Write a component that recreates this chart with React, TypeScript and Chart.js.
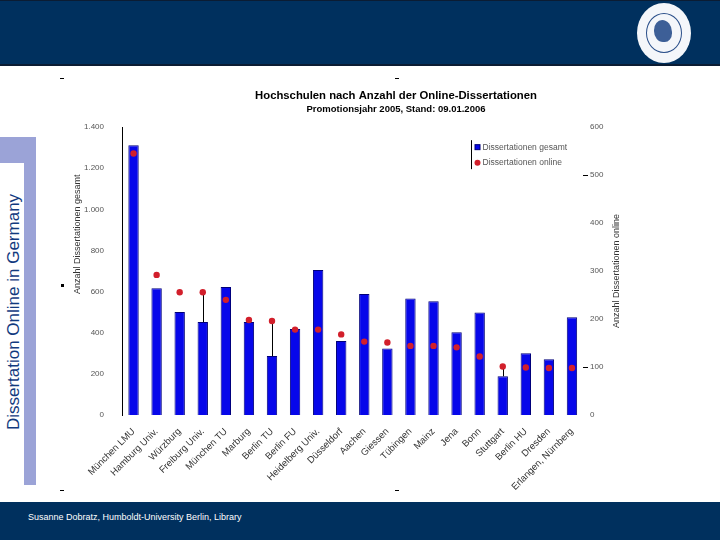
import React, { useEffect, useRef } from "react";
import { Chart, registerables } from "chart.js";

Chart.register(...registerables);

const categories = [
  "München LMU",
  "Hamburg Univ.",
  "Würzburg",
  "Freiburg Univ.",
  "München TU",
  "Marburg",
  "Berlin TU",
  "Berlin FU",
  "Heidelberg Univ.",
  "Düsseldorf",
  "Aachen",
  "Giessen",
  "Tübingen",
  "Mainz",
  "Jena",
  "Bonn",
  "Stuttgart",
  "Berlin HU",
  "Dresden",
  "Erlangen, Nürnberg",
];

const totalValues = [1312, 616, 501, 452, 622, 452, 287, 418, 705, 360, 588, 324, 567, 553, 403, 499, 188, 300, 271, 475];
const onlineValues = [545, 292, 256, 256, 240, 198, 196, 178, 178, 168, 153, 151, 144, 144, 141, 122, 101, 99, 98, 98];

const connectorIndices = [3, 6, 16];

const seriesLabels = ["Dissertationen gesamt", "Dissertationen online"];
const titleText = "Hochschulen nach Anzahl der Online-Dissertationen";
const subtitleText = "Promotionsjahr 2005, Stand: 09.01.2006";
const leftAxisTitle = "Anzahl Dissertationen gesamt";
const rightAxisTitle = "Anzahl Dissertationen online";
const sideTitle = "Dissertation Online in Germany";
const footerText = "Susanne Dobratz, Humboldt-University Berlin, Library";

const FONT = "'Liberation Sans', Arial, Helvetica, sans-serif";
const NAVY = "#00305e";
const BAR_FILL = "#0707ea";
const BAR_EDGE = "#00007a";
const DOT = "#d21f2b";

function fmtThousands(v: number): string {
  if (v >= 1000) {
    const th = Math.floor(v / 1000);
    const rest = String(v % 1000).padStart(3, "0");
    return th + "." + rest;
  }
  return String(v);
}

const connectorPlugin = {
  id: "connectors",
  beforeDatasetsDraw(chart: any) {
    const { ctx } = chart;
    const xs = chart.scales.x;
    const ys = chart.scales.y;
    const y1 = chart.scales.y1;
    ctx.save();
    ctx.strokeStyle = "#000";
    ctx.lineWidth = 1;
    connectorIndices.forEach((i) => {
      const px = Math.round(xs.getPixelForValue(i)) + 0.5;
      const top = y1.getPixelForValue(onlineValues[i]);
      const bottom = ys.getPixelForValue(totalValues[i]);
      ctx.beginPath();
      ctx.moveTo(px, top);
      ctx.lineTo(px, bottom);
      ctx.stroke();
    });
    ctx.restore();
  },
};

const axisTitlePlugin = {
  id: "axisTitles",
  afterDraw(chart: any) {
    const { ctx, chartArea } = chart;
    ctx.save();
    ctx.font = `9px ${FONT}`;
    ctx.fillStyle = "#333";
    ctx.textAlign = "center";
    ctx.textBaseline = "middle";
    ctx.save();
    ctx.translate(chart.scales.y.left + 22, chartArea.top + chartArea.height * 0.372);
    ctx.rotate(-Math.PI / 2);
    ctx.fillText(leftAxisTitle, 0, 0);
    ctx.restore();
    ctx.save();
    ctx.translate(chartArea.right + 33.5, (chartArea.top + chartArea.bottom) / 2);
    ctx.rotate(-Math.PI / 2);
    ctx.fillText(rightAxisTitle, 0, 0);
    ctx.restore();
    // small dashes beside right-axis labels 500 and 100
    const y1 = chart.scales.y1;
    ctx.strokeStyle = "#000";
    ctx.lineWidth = 1;
    [500, 100].forEach((v) => {
      const py = Math.round(y1.getPixelForValue(v)) + 0.5;
      ctx.beginPath();
      ctx.moveTo(chartArea.right - 0.5, py);
      ctx.lineTo(chartArea.right + 4.5, py);
      ctx.stroke();
    });
    ctx.restore();
  },
};

const legendPlugin = {
  id: "insideLegend",
  afterDatasetsDraw(chart: any) {
    const { ctx, chartArea } = chart;
    const lx = Math.round(chartArea.right - 113) + 0.5;
    const ty = chartArea.top;
    ctx.save();
    ctx.strokeStyle = "#000";
    ctx.lineWidth = 1;
    ctx.beginPath();
    ctx.moveTo(lx, ty + 13);
    ctx.lineTo(lx, ty + 42);
    ctx.stroke();
    ctx.font = `8.5px ${FONT}`;
    ctx.textBaseline = "middle";
    ctx.textAlign = "left";
    const ds = chart.data.datasets;
    ctx.fillStyle = ds[0].backgroundColor;
    ctx.fillRect(lx + 3.5, ty + 17.5, 5, 5);
    ctx.strokeStyle = ds[0].borderColor;
    ctx.strokeRect(lx + 3.5, ty + 17.5, 5, 5);
    ctx.fillStyle = "#555";
    ctx.fillText(ds[0].label, lx + 11, ty + 20.5);
    ctx.fillStyle = ds[1].pointBackgroundColor;
    ctx.beginPath();
    ctx.arc(lx + 6, ty + 35.5, 3, 0, Math.PI * 2);
    ctx.fill();
    ctx.fillStyle = "#555";
    ctx.fillText(ds[1].label, lx + 11, ty + 35.5);
    ctx.restore();
  },
};

function ChartBox() {
  const ref = useRef<HTMLCanvasElement | null>(null);
  useEffect(() => {
    if (!ref.current) return;
    Chart.defaults.font.family = FONT;
    const chart = new Chart(ref.current, {
      type: "bar",
      data: {
        labels: categories,
        datasets: [
          {
            type: "bar",
            label: seriesLabels[0],
            data: totalValues,
            backgroundColor: BAR_FILL,
            borderColor: BAR_EDGE,
            borderWidth: 1,
            barPercentage: 0.45,
            categoryPercentage: 1,
            yAxisID: "y",
            order: 2,
          } as any,
          {
            type: "line",
            label: seriesLabels[1],
            data: onlineValues,
            showLine: false,
            pointRadius: 3.2,
            pointBackgroundColor: DOT,
            pointBorderColor: DOT,
            borderColor: DOT,
            backgroundColor: DOT,
            pointBorderWidth: 0,
            yAxisID: "y1",
            order: 1,
          } as any,
        ],
      },
      options: {
        animation: false,
        responsive: true,
        maintainAspectRatio: false,
        layout: { padding: 0 },
        plugins: {
          legend: { display: false },
          tooltip: { enabled: false },
          title: {
            display: true,
            text: titleText,
            color: "#000",
            font: { size: 11.3, weight: "bold" },
            padding: { top: 9.2, bottom: 0 },
          },
          subtitle: {
            display: true,
            text: subtitleText,
            color: "#000",
            font: { size: 9.5, weight: "bold" },
            padding: { top: 1, bottom: 12 },
          },
        },
        scales: {
          x: {
            type: "category",
            grid: { display: false, drawTicks: false },
            border: { display: false },
            ticks: {
              autoSkip: false,
              maxRotation: 45,
              minRotation: 45,
              padding: 11,
              color: "#333",
              font: { size: 9.5 },
            },
            afterFit: (s: any) => {
              s.height = 85;
            },
          },
          y: {
            position: "left",
            min: 0,
            max: 1400,
            grid: { display: false, drawTicks: false },
            border: { display: true, color: "#000", width: 1 },
            ticks: {
              stepSize: 200,
              padding: 18,
              color: "#555",
              font: { size: 8 },
              callback: (v: any) => fmtThousands(Number(v)),
            },
            afterFit: (s: any) => {
              s.width = 66;
            },
          },
          y1: {
            position: "right",
            min: 0,
            max: 600,
            grid: { display: false, drawTicks: false },
            border: { display: false },
            ticks: {
              stepSize: 100,
              padding: 6.5,
              color: "#555",
              font: { size: 8 },
            },
            afterFit: (s: any) => {
              s.width = 152.5;
            },
          },
        },
      } as any,
      plugins: [connectorPlugin, axisTitlePlugin, legendPlugin],
    });
    return () => chart.destroy();
  }, []);
  return (
    <div style={{ position: "absolute", left: 56, top: 80, width: 680, height: 420 }}>
      <canvas ref={ref} />
    </div>
  );
}

function Mark({ x, y, w, h }: { x: number; y: number; w: number; h: number }) {
  return <div style={{ position: "absolute", left: x, top: y, width: w, height: h, background: "#000" }} />;
}

export default function App() {
  return (
    <div
      style={{
        position: "fixed",
        left: 0,
        top: 0,
        width: 720,
        height: 540,
        overflow: "hidden",
        background: "#fff",
        fontFamily: FONT,
      }}
    >
      <div
        style={{
          position: "absolute",
          left: 0,
          top: 0,
          width: 720,
          height: 63,
          background: NAVY,
          borderTop: "1px solid #0b1c33",
          borderBottom: "2px solid #0b1c33",
        }}
      />
      <div
        style={{
          position: "absolute",
          left: 637,
          top: 3,
          width: 54,
          height: 60,
          borderRadius: "50%",
          background: "#f4f6fa",
        }}
      >
        <div
          style={{
            position: "absolute",
            left: 9,
            top: 10,
            width: 34,
            height: 38,
            borderRadius: "50%",
            border: "1px solid #2a4f8a",
          }}
        />
        <div
          style={{
            position: "absolute",
            left: 17,
            top: 17,
            width: 18,
            height: 22,
            borderRadius: "45% 55% 40% 50%",
            background: "#3d5f97",
          }}
        />
      </div>

      <div style={{ position: "absolute", left: 0, top: 137, width: 36, height: 26, background: "#9ba3d7" }} />
      <div style={{ position: "absolute", left: 24, top: 163, width: 12, height: 322, background: "#9ba3d7" }} />
      <div
        style={{
          position: "absolute",
          left: 14,
          top: 312,
          transform: "translate(-50%, -50%) rotate(-90deg)",
          whiteSpace: "nowrap",
          color: "#123a7e",
          fontSize: 17,
          lineHeight: "18px",
        }}
      >
        {sideTitle}
      </div>

      <Mark x={60} y={78} w={4} h={1} />
      <Mark x={395} y={78} w={4} h={1} />
      <Mark x={61} y={284} w={3} h={3} />
      <Mark x={60} y={490} w={4} h={1} />
      <Mark x={395} y={490} w={4} h={1} />

      <ChartBox />

      <div
        style={{
          position: "absolute",
          left: 0,
          top: 502,
          width: 720,
          height: 38,
          background: NAVY,
        }}
      />
      <div
        style={{
          position: "absolute",
          left: 28,
          top: 511,
          color: "#fff",
          fontSize: 9,
          lineHeight: "12px",
          whiteSpace: "nowrap",
        }}
      >
        {footerText}
      </div>
    </div>
  );
}
